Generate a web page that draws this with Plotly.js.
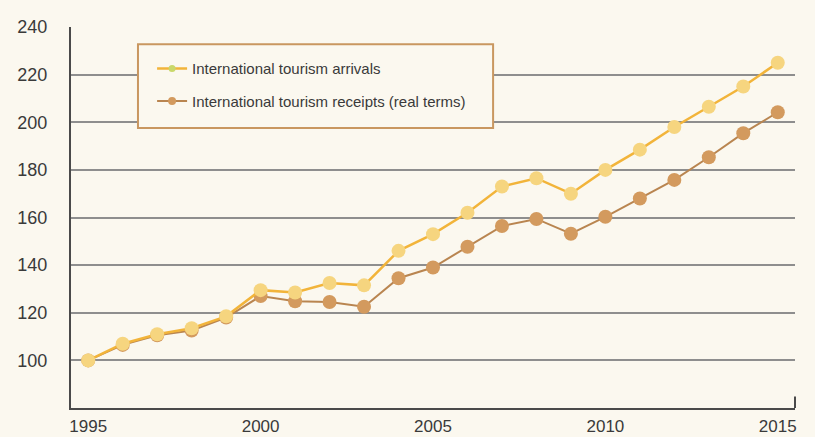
<!DOCTYPE html>
<html>
<head>
<meta charset="utf-8">
<script src="https://cdn.plot.ly/plotly-3.0.1.min.js"></script>
<style>html,body{margin:0;padding:0;background:#fbf8ef;}#chart{width:815px;height:437px;}</style>
</head>
<body>
<div id="chart"></div>
<script>
const years = [1995,1996,1997,1998,1999,2000,2001,2002,2003,2004,2005,2006,2007,2008,2009,2010,2011,2012,2013,2014,2015];
const arrivals = [100,107,111,113.5,118.5,129.5,128.5,132.5,131.5,146,153,162,173,176.5,170,180,188.5,198,206.5,215,225];
const receipts = [100,106.5,110.5,112.5,118,127,124.8,124.5,122.5,134.5,139,147.7,156.4,159.4,153.2,160.3,168,175.8,185.3,195.4,204.2];
const arrivalsName = 'International tourism arrivals';
const receiptsName = 'International tourism receipts (real terms)';
const xTicks = [1995,2000,2005,2010,2015];
const yTicks = [100,120,140,160,180,200,220,240];

const cArrLine = '#f2b43a', cArrMark = '#f6d57f';
const cRecLine = '#b98550', cRecMark = '#d39a5e';

const traces = [
  {x: years, y: receipts, name: receiptsName, type:'scatter', mode:'lines+markers',
   showlegend:false,
   line:{color:cRecLine, width:2}, marker:{color:cRecMark, size:14}},
  {x: years, y: arrivals, name: arrivalsName, type:'scatter', mode:'lines+markers',
   showlegend:false,
   line:{color:cArrLine, width:2.5}, marker:{color:cArrMark, size:14}},
  // legend entries
  {x:[null], y:[null], name: arrivalsName, type:'scatter', mode:'lines+markers',
   legendgroup:'a', legendrank:1,
   line:{color:cArrLine, width:2.5}, marker:{color:'#c9d86a', size:7}},
  {x:[null], y:[null], name: receiptsName, type:'scatter', mode:'lines+markers',
   legendgroup:'b', legendrank:2,
   line:{color:cRecLine, width:2}, marker:{color:cRecMark, size:8}}
];

const layout = {
  width:815, height:437,
  paper_bgcolor:'#fbf8ef', plot_bgcolor:'#fbf8ef',
  margin:{l:71, r:20, t:27, b:29},
  font:{family:'Liberation Sans, Arial, sans-serif', color:'#3a3a3a', size:18},
  showlegend:true,
  legend:{x:0.112, y:0.934, xanchor:'left', yanchor:'top',
    bgcolor:'rgba(0,0,0,0)', borderwidth:0,
    font:{size:15, color:'#3a3a3a'}, traceorder:'grouped', tracegroupgap:10,
    itemwidth:30},
  xaxis:{range:[1994.5,2015.5], tickvals:xTicks, ticktext:xTicks.map(String),
    showgrid:false, zeroline:false, showline:true, linecolor:'#4a4a4a', linewidth:2,
    ticks:'', ticklabelstandoff:2, tickfont:{size:17}, fixedrange:true},
  yaxis:{range:[80,240], tickvals:yTicks, ticktext:yTicks.map(String),
    showgrid:true, gridcolor:'#8e8e8e', gridwidth:2, zeroline:false,
    showline:true, linecolor:'#4a4a4a', linewidth:2,
    ticks:'', ticklabelstandoff:18, fixedrange:true},
  shapes:[
    {type:'line', xref:'paper', yref:'paper', x0:1, x1:1, y0:0, y1:0.03,
     line:{color:'#4a4a4a', width:2}},
    {type:'rect', xref:'paper', yref:'paper', x0:0.0925, x1:0.583, y0:0.735, y1:0.955,
     fillcolor:'#fbf8ef', line:{color:'#c99760', width:2}, layer:'above'}
  ]
};

Plotly.newPlot('chart', traces, layout, {displayModeBar:false, staticPlot:true});
</script>
</body>
</html>
